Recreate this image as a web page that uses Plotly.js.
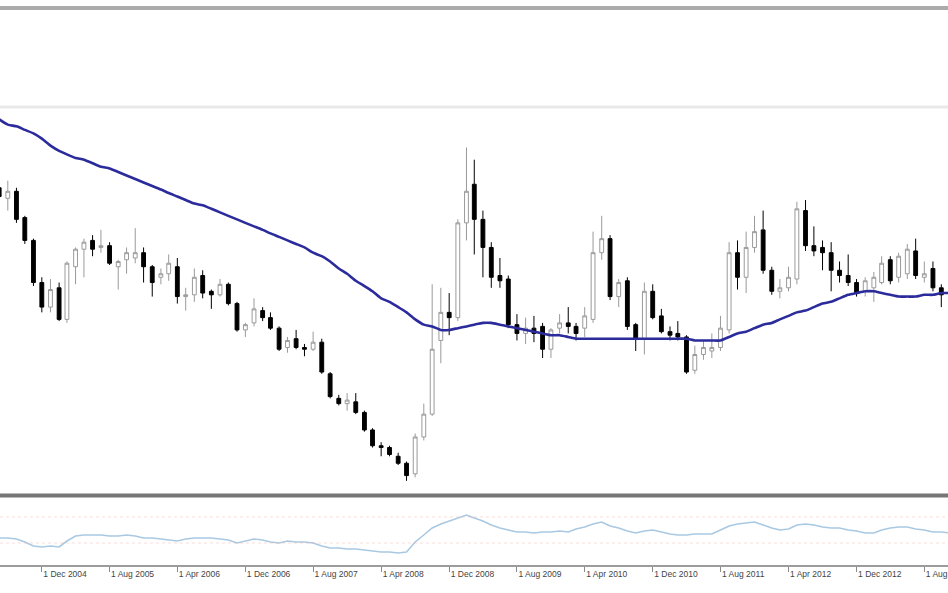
<!DOCTYPE html>
<html>
<head>
<meta charset="utf-8">
<script src="https://cdn.plot.ly/plotly-3.0.1.min.js"></script>
<style>html,body{margin:0;padding:0;background:#fff;}#chart{width:948px;height:593px;}</style>
</head>
<body>
<div id="chart"></div>
<script>
// Monthly bars, Jul 2004 .. Nov 2013
const months = [
 '2004-07-01','2004-08-01','2004-09-01','2004-10-01','2004-11-01','2004-12-01',
 '2005-01-01','2005-02-01','2005-03-01','2005-04-01','2005-05-01','2005-06-01','2005-07-01','2005-08-01','2005-09-01','2005-10-01','2005-11-01','2005-12-01',
 '2006-01-01','2006-02-01','2006-03-01','2006-04-01','2006-05-01','2006-06-01','2006-07-01','2006-08-01','2006-09-01','2006-10-01','2006-11-01','2006-12-01',
 '2007-01-01','2007-02-01','2007-03-01','2007-04-01','2007-05-01','2007-06-01','2007-07-01','2007-08-01','2007-09-01','2007-10-01','2007-11-01','2007-12-01',
 '2008-01-01','2008-02-01','2008-03-01','2008-04-01','2008-05-01','2008-06-01','2008-07-01','2008-08-01','2008-09-01','2008-10-01','2008-11-01','2008-12-01',
 '2009-01-01','2009-02-01','2009-03-01','2009-04-01','2009-05-01','2009-06-01','2009-07-01','2009-08-01','2009-09-01','2009-10-01','2009-11-01','2009-12-01',
 '2010-01-01','2010-02-01','2010-03-01','2010-04-01','2010-05-01','2010-06-01','2010-07-01','2010-08-01','2010-09-01','2010-10-01','2010-11-01','2010-12-01',
 '2011-01-01','2011-02-01','2011-03-01','2011-04-01','2011-05-01','2011-06-01','2011-07-01','2011-08-01','2011-09-01','2011-10-01','2011-11-01','2011-12-01',
 '2012-01-01','2012-02-01','2012-03-01','2012-04-01','2012-05-01','2012-06-01','2012-07-01','2012-08-01','2012-09-01','2012-10-01','2012-11-01','2012-12-01',
 '2013-01-01','2013-02-01','2013-03-01','2013-04-01','2013-05-01','2013-06-01','2013-07-01','2013-08-01','2013-09-01','2013-10-01','2013-11-01'
];

const openP = [
 3.67,3.61,3.65,3.50,3.37,3.13,
 2.99,3.10,2.92,3.22,3.32,3.37,3.33,3.34,3.22,3.26,3.27,3.30,
 3.22,3.16,3.18,3.22,3.05,3.06,3.17,3.08,3.06,3.12,3.01,2.86,
 2.90,2.97,2.93,2.87,2.76,2.81,2.76,2.75,2.79,2.61,2.47,2.44,
 2.45,2.39,2.29,2.20,2.19,2.14,2.10,2.04,2.25,2.38,2.80,2.96,
 2.93,3.47,3.69,3.49,3.33,3.17,3.15,2.89,2.84,2.87,2.88,2.75,
 2.87,2.90,2.88,2.87,2.92,3.30,3.38,3.05,3.14,2.89,2.81,3.08,
 2.94,2.85,2.84,2.82,2.63,2.72,2.74,2.76,2.86,3.30,3.16,3.33,
 3.43,3.20,3.08,3.10,3.15,3.54,3.34,3.33,3.30,3.20,3.17,3.13,
 3.08,3.10,3.13,3.26,3.16,3.18,3.31,3.16,3.21,3.10
];
const highP = [
 3.72,3.71,3.67,3.51,3.38,3.16,
 3.15,3.13,3.25,3.33,3.38,3.40,3.43,3.36,3.26,3.33,3.44,3.33,
 3.23,3.21,3.29,3.27,3.10,3.21,3.20,3.09,3.15,3.13,3.02,2.90,
 3.04,2.99,2.96,2.88,2.82,2.86,2.78,2.85,2.81,2.62,2.49,2.50,
 2.50,2.40,2.30,2.22,2.20,2.16,2.11,2.27,2.44,3.12,3.10,3.07,
 3.49,3.90,3.83,3.54,3.36,3.27,3.17,2.95,2.93,2.94,2.90,2.87,
 2.95,2.99,2.90,2.99,3.42,3.51,3.40,3.15,3.16,2.90,3.13,3.12,
 2.98,2.88,2.91,2.83,2.77,2.80,2.84,2.94,3.36,3.37,3.42,3.51,
 3.54,3.22,3.15,3.22,3.59,3.60,3.45,3.37,3.36,3.25,3.29,3.15,
 3.16,3.19,3.28,3.28,3.30,3.35,3.38,3.25,3.25,3.12
];
const lowP = [
 3.57,3.54,3.47,3.35,3.11,2.96,
 2.96,2.91,2.90,3.12,3.16,3.28,3.30,3.23,3.09,3.18,3.24,3.13,
 3.05,3.12,3.14,3.01,2.97,3.02,3.04,2.98,3.05,3.00,2.85,2.82,
 2.88,2.91,2.86,2.74,2.73,2.75,2.71,2.74,2.61,2.47,2.43,2.40,
 2.38,2.28,2.19,2.14,2.14,2.09,2.00,2.02,2.23,2.37,2.67,2.83,
 2.91,3.37,3.29,3.16,3.10,3.10,2.87,2.80,2.78,2.79,2.70,2.70,
 2.84,2.84,2.80,2.82,2.90,3.26,3.03,2.99,2.86,2.74,2.72,2.92,
 2.84,2.80,2.80,2.61,2.61,2.69,2.70,2.74,2.84,3.09,3.07,3.30,
 3.18,3.06,3.04,3.08,3.12,3.31,3.28,3.20,3.08,3.13,3.11,3.05,
 3.05,3.02,3.12,3.12,3.13,3.15,3.15,3.13,3.08,2.99
];
const closeP = [
 3.62,3.65,3.49,3.37,3.13,2.99,
 3.09,2.92,3.24,3.32,3.36,3.32,3.34,3.24,3.25,3.30,3.30,3.22,
 3.13,3.18,3.24,3.05,3.06,3.16,3.07,3.06,3.12,3.01,2.86,2.89,
 2.98,2.93,2.87,2.75,2.80,2.76,2.75,2.79,2.62,2.48,2.44,2.46,
 2.39,2.29,2.20,2.19,2.15,2.10,2.03,2.25,2.38,2.75,2.96,2.93,
 3.47,3.65,3.49,3.33,3.16,3.14,2.89,2.84,2.87,2.84,2.75,2.86,
 2.90,2.88,2.84,2.94,3.30,3.38,3.05,3.13,2.88,2.81,3.08,2.93,
 2.85,2.83,2.82,2.62,2.72,2.76,2.76,2.87,3.30,3.16,3.33,3.42,
 3.20,3.08,3.10,3.16,3.55,3.34,3.31,3.30,3.20,3.17,3.13,3.07,
 3.14,3.16,3.24,3.14,3.28,3.32,3.17,3.18,3.10,3.06
];

// Moving average (blue line), read per month
const maLine = [
 4.06,4.03,4.02,4.00,3.98,3.95,
 3.91,3.88,3.86,3.84,3.83,3.81,3.79,3.78,3.76,3.74,3.72,3.70,
 3.68,3.66,3.64,3.62,3.60,3.58,3.57,3.55,3.53,3.51,3.49,3.47,
 3.45,3.43,3.41,3.39,3.37,3.35,3.33,3.30,3.28,3.25,3.21,3.18,
 3.14,3.11,3.08,3.04,3.02,2.99,2.96,2.92,2.89,2.88,2.86,2.86,
 2.87,2.88,2.89,2.90,2.90,2.89,2.88,2.87,2.86,2.85,2.84,2.83,
 2.83,2.82,2.81,2.81,2.81,2.81,2.81,2.81,2.81,2.81,2.81,2.81,
 2.81,2.81,2.81,2.81,2.80,2.80,2.80,2.80,2.82,2.84,2.85,2.87,
 2.89,2.90,2.92,2.94,2.96,2.97,2.99,3.01,3.02,3.04,3.06,3.07,
 3.08,3.08,3.07,3.06,3.05,3.05,3.05,3.06,3.06,3.07,3.07
];

// Lower indicator panel (light blue line)
const indicator = [
 0.27,0.27,0.26,0.23,0.19,0.18,
 0.19,0.18,0.24,0.29,0.30,0.30,0.30,0.29,0.29,0.30,0.29,0.27,
 0.27,0.26,0.25,0.24,0.26,0.27,0.27,0.27,0.26,0.25,0.22,0.24,
 0.26,0.25,0.23,0.22,0.24,0.23,0.23,0.22,0.19,0.17,0.17,0.16,
 0.16,0.15,0.14,0.13,0.13,0.12,0.13,0.23,0.30,0.37,0.41,0.44,
 0.47,0.50,0.47,0.44,0.40,0.37,0.35,0.33,0.33,0.32,0.33,0.33,
 0.34,0.33,0.36,0.38,0.41,0.43,0.39,0.37,0.34,0.32,0.34,0.35,
 0.33,0.31,0.30,0.30,0.31,0.31,0.31,0.35,0.39,0.41,0.42,0.43,
 0.40,0.37,0.35,0.36,0.40,0.41,0.40,0.38,0.37,0.37,0.35,0.34,
 0.32,0.32,0.35,0.37,0.38,0.38,0.36,0.35,0.33,0.33,0.32
];
const indicatorLevels = [0.48, 0.22];

const tickDates = ['2004-12-01','2005-08-01','2006-04-01','2006-12-01','2007-08-01','2008-04-01',
 '2008-12-01','2009-08-01','2010-04-01','2010-12-01','2011-08-01','2012-04-01','2012-12-01','2013-08-01'];

const candleX = months.slice(0, openP.length);

const traces = [
 {
  type: 'candlestick', x: candleX, open: openP, high: highP, low: lowP, close: closeP,
  xaxis: 'x', yaxis: 'y', whiskerwidth: 0,
  increasing: {line: {color: '#9a9a9a', width: 1}, fillcolor: '#ffffff'},
  decreasing: {line: {color: '#000000', width: 1}, fillcolor: '#000000'},
  hoverinfo: 'skip', showlegend: false
 },
 {
  type: 'scatter', mode: 'lines', x: months, y: maLine, xaxis: 'x', yaxis: 'y',
  line: {color: '#2b2b9c', width: 2.6, shape: 'spline', smoothing: 0.6},
  hoverinfo: 'skip', showlegend: false
 },
 {
  type: 'scatter', mode: 'lines', x: months, y: indicator, xaxis: 'x', yaxis: 'y2',
  line: {color: '#a9c9e3', width: 1.6},
  hoverinfo: 'skip', showlegend: false
 }
];

const H = 593;
const py = v => 1 - v / H;

const shapes = [
 {type: 'line', xref: 'paper', yref: 'paper', x0: 0, x1: 1, y0: py(8), y1: py(8), line: {color: '#ababab', width: 4}},
 {type: 'line', xref: 'paper', yref: 'paper', x0: 0, x1: 1, y0: py(107), y1: py(107), line: {color: '#e9e9e9', width: 3}},
 {type: 'line', xref: 'paper', yref: 'paper', x0: 0, x1: 1, y0: py(495.5), y1: py(495.5), line: {color: '#767676', width: 4}}
];
indicatorLevels.forEach(l => shapes.push({type: 'line', xref: 'paper', yref: 'y2', x0: 0, x1: 1, y0: l, y1: l,
  line: {color: 'rgba(235,170,160,0.4)', width: 1, dash: 'dot'}}));

const layout = {
 width: 948, height: 593,
 margin: {l: 0, r: 0, t: 0, b: 0},
 paper_bgcolor: '#ffffff', plot_bgcolor: '#ffffff',
 showlegend: false,
 xaxis: {
  type: 'date', range: ['2004-07-04', '2013-10-25'], anchor: 'y2',
  rangeslider: {visible: false},
  showgrid: false, zeroline: false,
  tickvals: tickDates, tickformat: '%-d %b %Y',
  ticks: 'outside', ticklen: 5, tickcolor: '#8a8a8a', tickwidth: 1,
  ticklabelposition: 'outside right', ticklabeloverflow: 'allow',
  showline: true, linecolor: '#9c9c9c', linewidth: 2,
  tickfont: {family: 'Liberation Sans, Arial, sans-serif', size: 8.5, color: '#444444'}
 },
 yaxis: {
  domain: [py(494), py(10)], range: [1.925, 4.683],
  showticklabels: false, showgrid: false, zeroline: false, ticks: ''
 },
 yaxis2: {
  domain: [py(565), py(499)], range: [0, 0.66],
  showticklabels: false, showgrid: false, zeroline: false, ticks: ''
 },
 shapes: shapes
};

Plotly.newPlot('chart', traces, layout, {staticPlot: true, displayModeBar: false});
</script>
</body>
</html>
